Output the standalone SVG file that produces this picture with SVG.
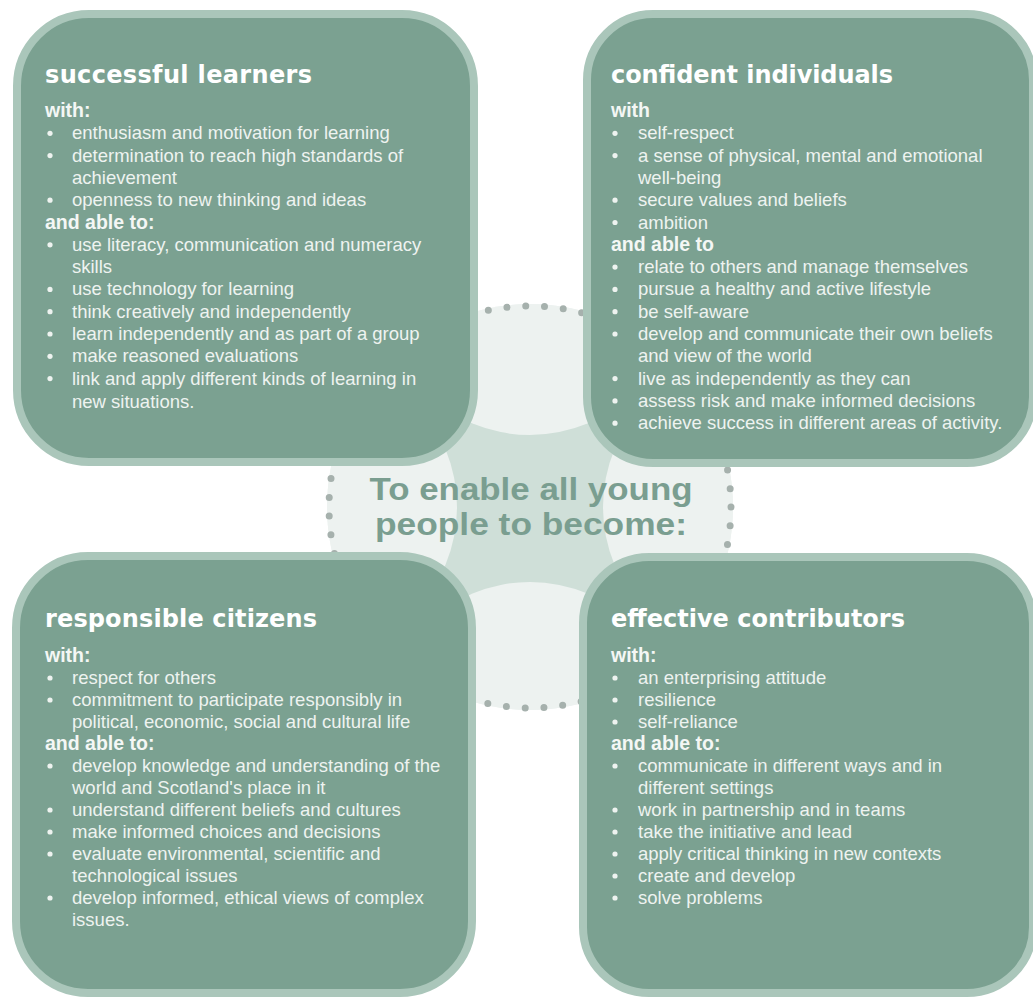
<svg xmlns="http://www.w3.org/2000/svg" width="1033" height="1001" viewBox="0 0 1033 1001">
<style>
.box{fill:#7ba191;stroke:#aac6ba;stroke-width:8}
.title{font-family:"DejaVu Sans","Liberation Sans",sans-serif;font-weight:bold;font-size:24px;fill:#ffffff}
.sub{font-family:"Liberation Sans",Arial,sans-serif;font-weight:bold;font-size:19.5px;fill:#f4f7f5}
.body{font-family:"Liberation Sans",Arial,sans-serif;font-size:18.5px;fill:#eef3f0}
.dot{fill:#eef3f0}
.center{font-family:"Liberation Sans",Arial,sans-serif;font-weight:bold;font-size:31px;fill:#7a9e90;text-anchor:middle}
</style>
<defs>
<clipPath id="bigc"><circle cx="530" cy="507" r="203"/></clipPath>
</defs>
<rect width="1033" height="1001" fill="#ffffff"/>
<g id="background">
<circle cx="530" cy="507" r="203" fill="#edf2f0"/>
<g clip-path="url(#bigc)">
<circle cx="530" cy="507" r="190" fill="#cfdfd8"/>
<circle cx="530" cy="285" r="150" fill="#edf2f0"/>
<circle cx="530" cy="732" r="150" fill="#edf2f0"/>
<circle cx="307" cy="507" r="150" fill="#edf2f0"/>
<circle cx="753" cy="507" r="150" fill="#edf2f0"/>
</g>
<circle cx="530" cy="507" r="201" fill="none" stroke="#a6b1ad" stroke-width="7" stroke-linecap="round" stroke-dasharray="0 18.85"/>
</g>
<g id="connectors"></g>
<g id="center-label">
<text class="center" x="531" y="500" textLength="323" lengthAdjust="spacingAndGlyphs">To enable all young</text>
<text class="center" x="531" y="535" textLength="312" lengthAdjust="spacingAndGlyphs">people to become:</text>
</g>
<g id="node-successful-learners">
<rect class="box" x="17" y="14" width="457" height="448" rx="72"/>
<text class="title" x="45" y="83" textLength="267" lengthAdjust="spacing">successful learners</text>
<text class="sub" x="45" y="117">with:</text>
<circle class="dot" cx="50" cy="133.3" r="2.6"/><text class="body" x="72" y="139.3">enthusiasm and motivation for learning</text>
<circle class="dot" cx="50" cy="155.6" r="2.6"/><text class="body" x="72" y="161.6">determination to reach high standards of</text>
<text class="body" x="72" y="183.9">achievement</text>
<circle class="dot" cx="50" cy="200.2" r="2.6"/><text class="body" x="72" y="206.2">openness to new thinking and ideas</text>
<text class="sub" x="45" y="228.5">and able to:</text>
<circle class="dot" cx="50" cy="244.8" r="2.6"/><text class="body" x="72" y="250.8">use literacy, communication and numeracy</text>
<text class="body" x="72" y="273.1">skills</text>
<circle class="dot" cx="50" cy="289.4" r="2.6"/><text class="body" x="72" y="295.4">use technology for learning</text>
<circle class="dot" cx="50" cy="311.7" r="2.6"/><text class="body" x="72" y="317.7">think creatively and independently</text>
<circle class="dot" cx="50" cy="334" r="2.6"/><text class="body" x="72" y="340">learn independently and as part of a group</text>
<circle class="dot" cx="50" cy="356.3" r="2.6"/><text class="body" x="72" y="362.3">make reasoned evaluations</text>
<circle class="dot" cx="50" cy="378.6" r="2.6"/><text class="body" x="72" y="384.6">link and apply different kinds of learning in</text>
<text class="body" x="72" y="408">new situations.</text>
</g>
<g id="node-confident-individuals">
<rect class="box" x="587" y="14" width="446" height="449" rx="66"/>
<text class="title" x="611" y="83" textLength="282" lengthAdjust="spacing">confident individuals</text>
<text class="sub" x="611" y="117">with</text>
<circle class="dot" cx="615" cy="133.3" r="2.6"/><text class="body" x="638" y="139.3">self-respect</text>
<circle class="dot" cx="615" cy="155.6" r="2.6"/><text class="body" x="638" y="161.6">a sense of physical, mental and emotional</text>
<text class="body" x="638" y="183.9">well-being</text>
<circle class="dot" cx="615" cy="200.2" r="2.6"/><text class="body" x="638" y="206.2">secure values and beliefs</text>
<circle class="dot" cx="615" cy="222.5" r="2.6"/><text class="body" x="638" y="228.5">ambition</text>
<text class="sub" x="611" y="250.8">and able to</text>
<circle class="dot" cx="615" cy="267.1" r="2.6"/><text class="body" x="638" y="273.1">relate to others and manage themselves</text>
<circle class="dot" cx="615" cy="289.4" r="2.6"/><text class="body" x="638" y="295.4">pursue a healthy and active lifestyle</text>
<circle class="dot" cx="615" cy="311.7" r="2.6"/><text class="body" x="638" y="317.7">be self-aware</text>
<circle class="dot" cx="615" cy="334" r="2.6"/><text class="body" x="638" y="340">develop and communicate their own beliefs</text>
<text class="body" x="638" y="362.3">and view of the world</text>
<circle class="dot" cx="615" cy="378.6" r="2.6"/><text class="body" x="638" y="384.6">live as independently as they can</text>
<circle class="dot" cx="615" cy="400.9" r="2.6"/><text class="body" x="638" y="406.9">assess risk and make informed decisions</text>
<circle class="dot" cx="615" cy="423.2" r="2.6"/><text class="body" x="638" y="429.2">achieve success in different areas of activity.</text>
</g>
<g id="node-responsible-citizens">
<rect class="box" x="16" y="556" width="456" height="437" rx="72"/>
<text class="title" x="45" y="627" textLength="272" lengthAdjust="spacing">responsible citizens</text>
<text class="sub" x="45" y="662">with:</text>
<circle class="dot" cx="50" cy="678" r="2.6"/><text class="body" x="72" y="684">respect for others</text>
<circle class="dot" cx="50" cy="700" r="2.6"/><text class="body" x="72" y="706">commitment to participate responsibly in</text>
<text class="body" x="72" y="728">political, economic, social and cultural life</text>
<text class="sub" x="45" y="750">and able to:</text>
<circle class="dot" cx="50" cy="766" r="2.6"/><text class="body" x="72" y="772">develop knowledge and understanding of the</text>
<text class="body" x="72" y="794">world and Scotland's place in it</text>
<circle class="dot" cx="50" cy="810" r="2.6"/><text class="body" x="72" y="816">understand different beliefs and cultures</text>
<circle class="dot" cx="50" cy="832" r="2.6"/><text class="body" x="72" y="838">make informed choices and decisions</text>
<circle class="dot" cx="50" cy="854" r="2.6"/><text class="body" x="72" y="860">evaluate environmental, scientific and</text>
<text class="body" x="72" y="882">technological issues</text>
<circle class="dot" cx="50" cy="898" r="2.6"/><text class="body" x="72" y="904">develop informed, ethical views of complex</text>
<text class="body" x="72" y="926">issues.</text>
</g>
<g id="node-effective-contributors">
<rect class="box" x="583" y="557" width="450" height="436" rx="66"/>
<text class="title" x="611" y="627" textLength="294" lengthAdjust="spacing">effective contributors</text>
<text class="sub" x="611" y="662">with:</text>
<circle class="dot" cx="615" cy="678" r="2.6"/><text class="body" x="638" y="684">an enterprising attitude</text>
<circle class="dot" cx="615" cy="700" r="2.6"/><text class="body" x="638" y="706">resilience</text>
<circle class="dot" cx="615" cy="722" r="2.6"/><text class="body" x="638" y="728">self-reliance</text>
<text class="sub" x="611" y="750">and able to:</text>
<circle class="dot" cx="615" cy="766" r="2.6"/><text class="body" x="638" y="772">communicate in different ways and in</text>
<text class="body" x="638" y="794">different settings</text>
<circle class="dot" cx="615" cy="810" r="2.6"/><text class="body" x="638" y="816">work in partnership and in teams</text>
<circle class="dot" cx="615" cy="832" r="2.6"/><text class="body" x="638" y="838">take the initiative and lead</text>
<circle class="dot" cx="615" cy="854" r="2.6"/><text class="body" x="638" y="860">apply critical thinking in new contexts</text>
<circle class="dot" cx="615" cy="876" r="2.6"/><text class="body" x="638" y="882">create and develop</text>
<circle class="dot" cx="615" cy="898" r="2.6"/><text class="body" x="638" y="904">solve problems</text>
</g>
</svg>
